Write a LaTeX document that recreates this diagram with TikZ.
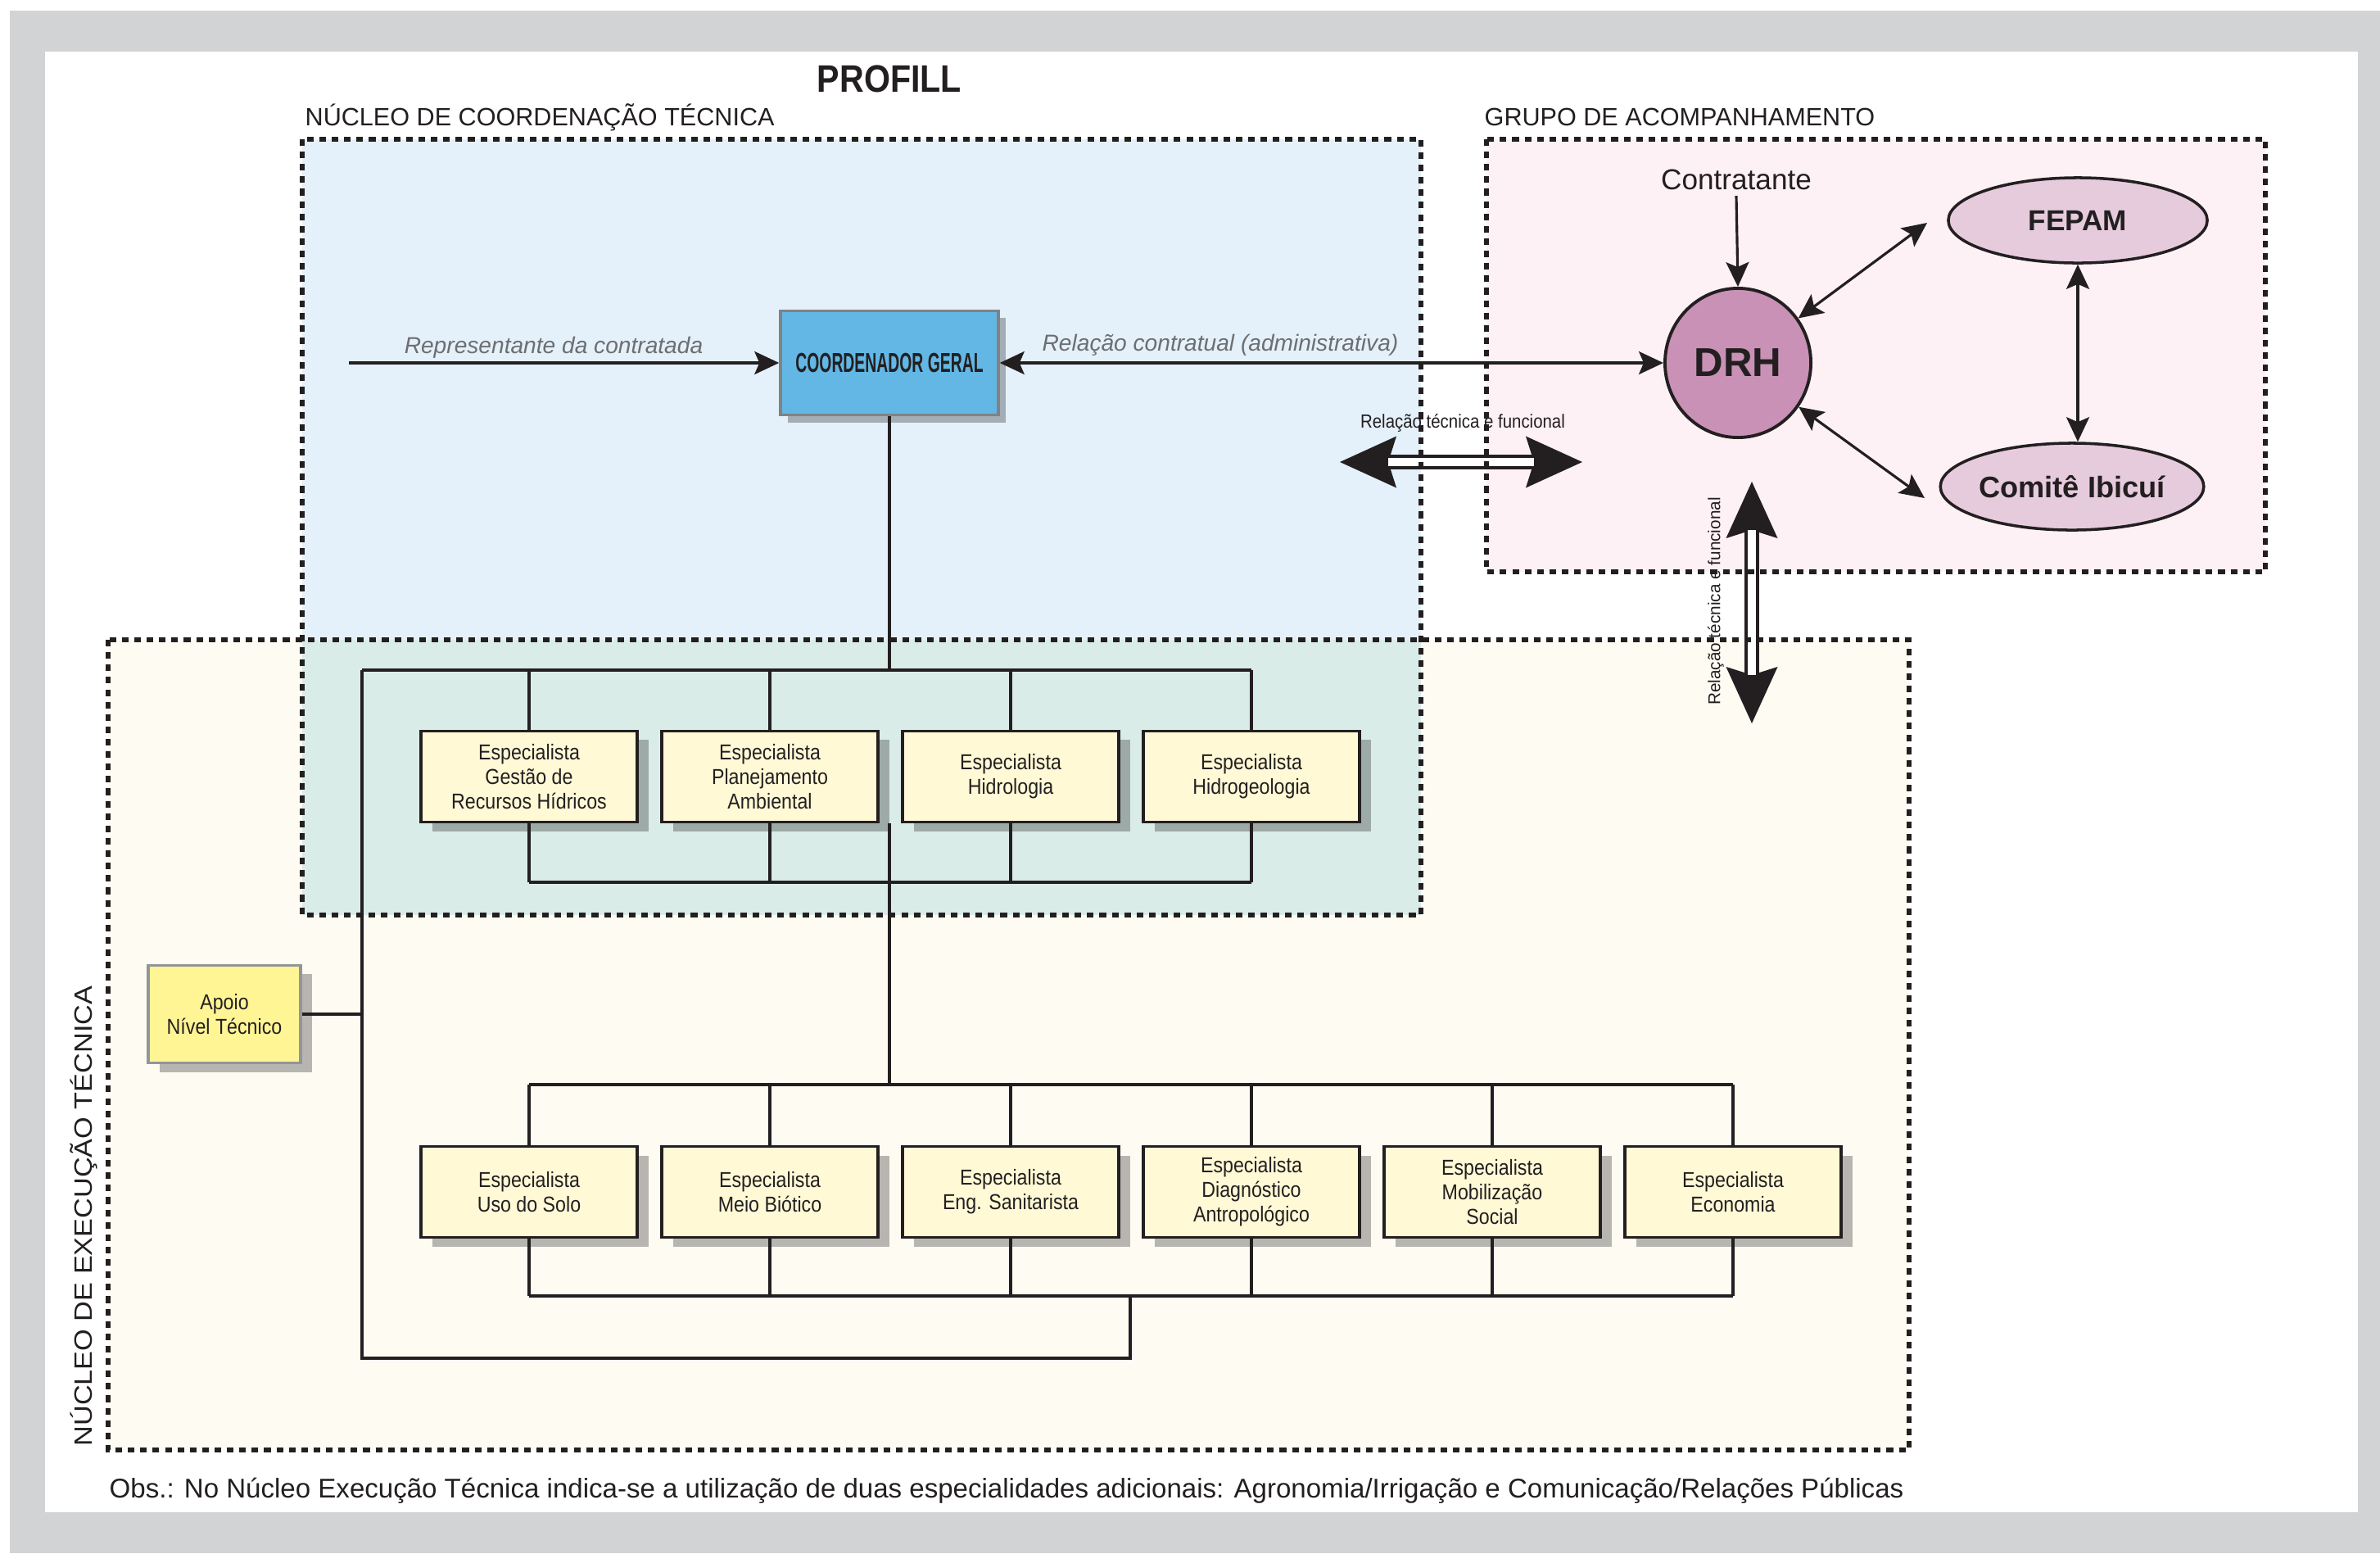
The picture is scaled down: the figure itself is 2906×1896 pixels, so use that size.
\documentclass[tikz,border=0pt]{standalone}
\usepackage{fontspec}
\setmainfont{Liberation Sans}
\newfontfamily\cond{Liberation Sans}[FakeStretch=0.88]
\newfontfamily\xcond{Liberation Sans}[FakeStretch=0.58]
\newfontfamily\widef{Liberation Sans}[FakeStretch=1.12]
\usetikzlibrary{arrows.meta,shadows,shapes.geometric}
\definecolor{framegray}{HTML}{D1D3D4}
\definecolor{coordfill}{HTML}{E4F1FA}
\definecolor{grupofill}{HTML}{FDF1F5}
\definecolor{execfill}{HTML}{FEFBF3}
\definecolor{overfill}{HTML}{DAECE8}
\definecolor{boxfill}{HTML}{FFF9D6}
\definecolor{apoiofill}{HTML}{FFF595}
\definecolor{apoioborder}{HTML}{939598}
\definecolor{cgfill}{HTML}{62B7E5}
\definecolor{cgborder}{HTML}{808285}
\definecolor{drhfill}{HTML}{C991B6}
\definecolor{ellfill}{HTML}{E6CBDD}
\definecolor{linec}{HTML}{231F20}
\definecolor{labelgray}{HTML}{6D6E71}
\tikzset{
  orgline/.style={draw=linec, line width=1pt},
  shad/.style={general shadow={fill=black, fill opacity=0.28, shadow xshift=0.14cm, shadow yshift=-0.11cm}},
  specbox/.style={shad, draw=linec, line width=1.1pt, fill=boxfill, minimum width=2.64cm, minimum height=1.11cm,
    inner sep=0pt, align=center, font=\cond\fontsize{7.5}{8.5}\selectfont, text=linec},
  dotborder/.style={draw=linec, line width=1.9pt, dash pattern=on 2.3pt off 2pt},
  smallarrow/.style={draw=linec, line width=0.9pt},
  bigarrow/.style={draw=linec, line width=5pt,
    arrows={Stealth[length=6.9mm,width=6.3mm,inset=1mm,line width=0pt]-Stealth[length=6.9mm,width=6.3mm,inset=1mm,line width=0pt]}},
  bigcore/.style={draw=white, line width=2.7pt, shorten <=5.9mm, shorten >=5.9mm},
  grplabel/.style={font=\fontsize{8.7}{10}\selectfont, text=linec, inner sep=0pt},
  >={Stealth[length=3mm,width=2.8mm,inset=0.6mm]}
}
\begin{document}
\begin{tikzpicture}[x=0.01cm, y=-0.01cm]
\useasboundingbox (0,0) rectangle (2906,1896);
% frame
\fill[framegray] (12,13) rectangle (2906,1896);
\fill[white] (55,63) rectangle (2879,1846);
% regions
\fill[execfill] (132,781) rectangle (2331,1770);
\fill[coordfill] (369,170) rectangle (1735,1117);
\fill[grupofill] (1815,170) rectangle (2766,698);
\fill[overfill] (369,781) rectangle (1735,1117);

% titles
\node[font=\cond\bfseries\fontsize{13.3}{15}\selectfont, text=linec] (title) at (1086,96) {PROFILL};
\node[grplabel, anchor=west] (lcoord) at (372,143) {NÚCLEO DE COORDENAÇÃO TÉCNICA};
\node[grplabel, anchor=west] (lgrupo) at (1812,143) {GRUPO DE ACOMPANHAMENTO};
\node[font=\widef\fontsize{8.7}{10}\selectfont, text=linec, rotate=90, anchor=west, inner sep=0pt] (lexec) at (102,1766) {NÚCLEO DE EXECUÇÃO TÉCNICA};

% coordenador
\node[general shadow={fill=black, fill opacity=0.28, shadow xshift=0.09cm, shadow yshift=-0.09cm},
  draw=cgborder, line width=0.95pt, fill=cgfill, minimum width=2.66cm, minimum height=1.27cm, inner sep=0pt,
  font=\xcond\bfseries\fontsize{9.5}{11}\selectfont, text=linec] (cg) at (1086,443) {COORDENADOR GERAL};

% org chart nodes
\node[specbox] (r1a) at (646,948) {Especialista\\Gestão de\\Recursos Hídricos};
\node[specbox] (r1b) at (940,948) {Especialista\\Planejamento\\Ambiental};
\node[specbox] (r1c) at (1234,948) {Especialista\\Hidrologia};
\node[specbox] (r1d) at (1528,948) {Especialista\\Hidrogeologia};
\node[specbox] (r2a) at (646,1455) {Especialista\\Uso do Solo};
\node[specbox] (r2b) at (940,1455) {Especialista\\Meio Biótico};
\node[specbox] (r2c) at (1234,1455) {Especialista\\Eng. Sanitarista};
\node[specbox] (r2d) at (1528,1455) {Especialista\\Diagnóstico\\Antropológico};
\node[specbox] (r2e) at (1822,1455) {Especialista\\Mobilização\\Social};
\node[specbox] (r2f) at (2116,1455) {Especialista\\Economia};
\node[shad, draw=apoioborder, line width=0.9pt, fill=apoiofill, minimum width=1.86cm, minimum height=1.19cm,
  inner sep=0pt, align=center, font=\cond\fontsize{7.5}{8.5}\selectfont, text=linec] (apoio) at (274,1238) {Apoio\\Nível Técnico};

% org chart lines
\coordinate (bar1) at (1086,818);
\coordinate (bar1b) at (1086,1077);
\coordinate (bar2) at (1086,1324);
\coordinate (bar2b) at (1086,1582);
\coordinate (loopL) at (442,818);
\coordinate (loopB) at (442,1658);
\coordinate (loopJ) at (1380,1582);
\draw[orgline] (cg.south) -- (bar1);
\draw[orgline] (loopL) -- (r1d.north |- bar1);
\foreach \n in {r1a,r1b,r1c,r1d}{
  \draw[orgline] (\n.north) -- (\n.north |- bar1);
  \draw[orgline] (\n.south) -- (\n.south |- bar1b);
}
\draw[orgline] (r1a.south |- bar1b) -- (r1d.south |- bar1b);
\draw[orgline] (bar2 |- r1b.south) -- (bar2);
\draw[orgline] (r2a.north |- bar2) -- (r2f.north |- bar2);
\draw[orgline] (r2a.south |- bar2b) -- (r2f.south |- bar2b);
\foreach \n in {r2a,r2b,r2c,r2d,r2e,r2f}{
  \draw[orgline] (\n.north) -- (\n.north |- bar2);
  \draw[orgline] (\n.south) -- (\n.south |- bar2b);
}
\draw[orgline] (loopL) -- (loopB) -| (loopJ);
\draw[orgline] (apoio.east) -- (apoio.east -| loopL);

% grupo nodes
\node[draw=linec, line width=1.1pt, fill=drhfill, ellipse, minimum width=1.78cm, minimum height=1.82cm, inner sep=0pt,
  font=\bfseries\fontsize{14}{16}\selectfont, text=linec] (drh) at (2122,443) {DRH};
\node[draw=linec, line width=1pt, fill=ellfill, ellipse, minimum width=3.16cm, minimum height=1.04cm, inner sep=0pt,
  font=\bfseries\fontsize{10}{12}\selectfont, text=linec] (fepam) at (2537,269) {FEPAM};
\node[draw=linec, line width=1pt, fill=ellfill, ellipse, minimum width=3.16cm, minimum height=1.06cm, inner sep=0pt,
  font=\bfseries\fontsize{10.3}{12}\selectfont, text=linec] (comite) at (2530,594) {Comitê Ibicuí};
\node[font=\fontsize{10}{12}\selectfont, text=linec, inner sep=2pt] (contr) at (2120,219) {Contratante};
\coordinate (fa) at (2353,272);
\coordinate (ca) at (2350,608);

% arrows
\coordinate (repstart) at (426,443);
\draw[smallarrow, ->] (repstart) -- (cg.west);
\node[font=\itshape\fontsize{8}{10}\selectfont, text=labelgray] (lrep) at (676,424) {Representante da contratada};
\draw[smallarrow, <->] (cg.east) -- (drh.west);
\node[font=\itshape\fontsize{8}{10}\selectfont, text=labelgray] (ladm) at (1490,421) {Relação contratual (administrativa)};
\draw[smallarrow, ->] (contr.south) -- (drh.north);
\draw[smallarrow, <->] (drh) -- (fa);
\draw[smallarrow, <->] (drh) -- (ca);
\draw[smallarrow, <->] (fepam.south) -- (fepam.south |- comite.north);

% big arrows
\coordinate (ha) at (1636,564);
\coordinate (hb) at (1932,564);
\coordinate (va) at (2139,588);
\coordinate (vb) at (2139,883);
\draw[bigarrow] (ha) -- (hb);
\draw[bigcore] (ha) -- (hb);
\draw[bigarrow] (va) -- (vb);
\draw[bigcore] (va) -- (vb);
\node[font=\cond\fontsize{6.6}{8}\selectfont, text=linec, inner sep=0pt] (lhor) at (1786,516) {Relação técnica e funcional};
\node[font=\fontsize{5.9}{7}\selectfont, text=linec, rotate=90, inner sep=0pt] (lvert) at (2095,734) {Relação técnica e funcional};

% dotted borders
\draw[dotborder] (132,781) rectangle (2331,1770);
\draw[dotborder] (369,170) rectangle (1735,1117);
\draw[dotborder] (1815,170) rectangle (2766,698);

% note
\node[font=\fontsize{9.4}{11}\selectfont, text=linec, anchor=west, inner sep=0pt] (obs) at (133,1820) {Obs.: No Núcleo Execução Técnica indica-se a utilização de duas especialidades adicionais: Agronomia/Irrigação e Comunicação/Relações Públicas};
\end{tikzpicture}
\end{document}
